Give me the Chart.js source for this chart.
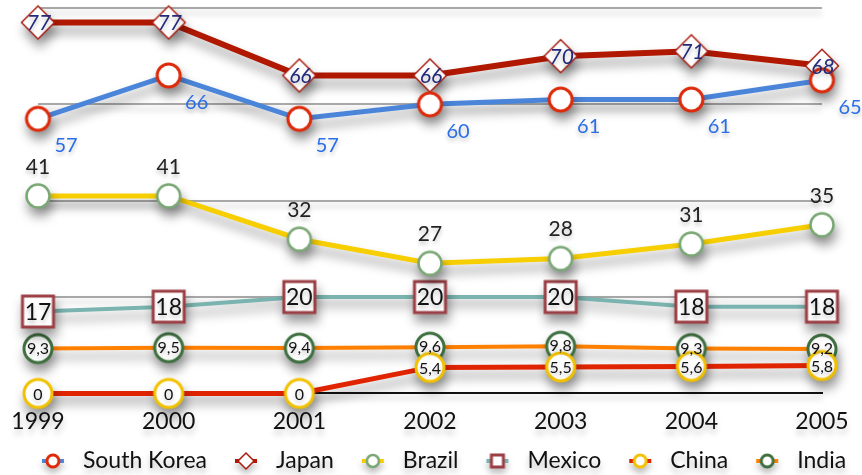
<!DOCTYPE html>
<html>
<head>
<meta charset="utf-8">
<script src="https://cdn.jsdelivr.net/npm/chart.js@4.4.1/dist/chart.umd.min.js"></script>
<style>
html, body { margin: 0; padding: 0; background: #fff; }
#wrap { width: 862px; height: 475px; position: relative; }
</style>
</head>
<body>
<div id="wrap"><canvas id="myChart"></canvas></div>
<script>
var years = ['1999', '2000', '2001', '2002', '2003', '2004', '2005']
var south_korea = [57, 66, 57, 60, 61, 61, 65]
var japan = [77, 77, 66, 66, 70, 71, 68]
var brazil = [41, 41, 32, 27, 28, 31, 35]
var mexico = [17, 18, 20, 20, 20, 18, 18]
var china = [0, 0, 0, 5.4, 5.5, 5.6, 5.8]
var india = [9.3, 9.5, 9.4, 9.6, 9.8, 9.3, 9.2]

var FONT = 'Lato, "Open Sans", sans-serif'

function shapePath(g, shape, cx, cy, size) {
  g.beginPath()
  if (shape == 'circle') {
    g.arc(cx, cy, size, 0, Math.PI * 2)
  } else if (shape == 'diamond') {
    g.moveTo(cx, cy - size); g.lineTo(cx + size, cy); g.lineTo(cx, cy + size); g.lineTo(cx - size, cy); g.closePath()
  } else {
    g.rect(cx - size, cy - size, size * 2, size * 2)
  }
}

// marker drawn as one image, so its shadow falls under the whole thing
function makeMarker(shape, border, bw, size) {
  var c = document.createElement('canvas')
  var s = Math.ceil(size * 2 + bw * 2 + 4)
  c.width = s; c.height = s
  var g = c.getContext('2d')
  shapePath(g, shape, s / 2, s / 2, size)
  g.fillStyle = '#fff'; g.fill()
  g.strokeStyle = border; g.lineWidth = bw; g.stroke()
  return c
}

// little legend icons: line stub with the marker on it
function makeIcon(lineColor, lineW, shape, border, bw, size) {
  var c = document.createElement('canvas')
  c.width = 24; c.height = 24
  var g = c.getContext('2d')
  g.strokeStyle = lineColor; g.lineWidth = lineW
  g.beginPath(); g.moveTo(1, 12); g.lineTo(23, 12); g.stroke()
  shapePath(g, shape, 12, 12, size)
  g.fillStyle = '#fff'; g.fill()
  g.strokeStyle = border; g.lineWidth = bw; g.stroke()
  return c
}

var markers = [
  makeMarker('circle', '#dd2a0a', 3, 11.5),
  makeMarker('diamond', '#a81c10', 1.5, 16.5),
  makeMarker('circle', '#7aa875', 2.5, 11.5),
  makeMarker('square', '#9c3f45', 3, 15.5),
  makeMarker('circle', '#f2c200', 3, 14),
  makeMarker('circle', '#3f7040', 3, 14)
]

var icons = [
  makeIcon('#4a85d9', 4, 'circle', '#dd2a0a', 3, 6),
  makeIcon('#b01800', 4, 'diamond', '#a81c10', 1.5, 8),
  makeIcon('#f7cf00', 4, 'circle', '#7aa875', 2.5, 6),
  makeIcon('#7ab3af', 4, 'square', '#9c3f45', 3, 6),
  makeIcon('#e02400', 4, 'circle', '#f2c200', 3, 6),
  makeIcon('#ff8000', 4, 'circle', '#3f7040', 3, 6)
]

// label look per dataset: colour, font, offset
var labelLook = [
  { color: '#2a6ee8', size: 20, style: 'normal', dx: 28, dy: 27 },
  { color: '#232a7a', size: 21, style: 'italic', dx: 1, dy: 1 },
  { color: '#222', size: 21, style: 'normal', dx: 0, dy: -29 },
  { color: '#111', size: 23, style: 'normal', dx: 0, dy: 1 },
  { color: '#111', size: 16, style: 'normal', dx: 0, dy: 1 },
  { color: '#111', size: 16, style: 'normal', dx: 0, dy: 0 }
]

// soft shadow on everything, a heavier one on the series
const shadowPlugin = {
  id: 'shadow',
  beforeDraw(chart) {
    var c = chart.ctx
    c.save()
    c.shadowColor = 'rgba(0,0,0,0.22)'
    c.shadowBlur = 6
    c.shadowOffsetY = 5
  },
  afterDraw(chart) {
    chart.ctx.restore()
  },
  beforeDatasetDraw(chart) {
    var c = chart.ctx
    c.save()
    c.shadowColor = 'rgba(0,0,0,0.4)'
    c.shadowBlur = 11
    c.shadowOffsetX = 2
    c.shadowOffsetY = 8
  },
  afterDatasetDraw(chart) {
    chart.ctx.restore()
  }
}

const valueLabels = {
  id: 'valueLabels',
  afterDatasetsDraw(chart) {
    var c = chart.ctx
    chart.data.datasets.forEach(function (ds, i) {
      var look = labelLook[i]
      var meta = chart.getDatasetMeta(i)
      meta.data.forEach(function (el, j) {
        var txt = String(ds.data[j]).replace('.', ',')
        c.save()
        c.font = look.style + ' ' + look.size + 'px ' + FONT
        c.fillStyle = look.color
        c.textAlign = 'center'
        c.textBaseline = 'middle'
        c.shadowColor = 'rgba(0,0,0,0.25)'
        c.shadowBlur = 4
        c.shadowOffsetY = 3
        c.fillText(txt, el.x + look.dx, el.y + look.dy)
        c.restore()
      })
    })
  }
}

// one-row legend under the axis
const legendRow = {
  id: 'legendRow',
  afterDraw(chart) {
    var c = chart.ctx
    c.save()
    c.font = '23px ' + FONT
    c.fillStyle = '#111'
    c.textBaseline = 'middle'
    c.shadowColor = 'rgba(0,0,0,0.25)'
    c.shadowBlur = 6
    c.shadowOffsetY = 5
    var names = chart.data.datasets.map(function (d) { return d.label })
    var widths = names.map(function (n) { return c.measureText(n).width })
    var total = 0
    widths.forEach(function (w) { total += 41 + w })
    total += 28 * (names.length - 1)
    var x = 444 - total / 2
    var y = 461
    names.forEach(function (n, i) {
      c.drawImage(icons[i], x - 1, y - 12)
      c.fillText(n, x + 41, y)
      x += 41 + widths[i] + 28
    })
    c.restore()
  }
}

const ctx = document.getElementById('myChart')

new Chart(ctx, {
  type: 'line',
  data: {
    labels: years,
    datasets: [
      { label: 'South Korea', data: south_korea, borderColor: '#4a85d9', borderWidth: 5, pointStyle: markers[0], pointRadius: 12 },
      { label: 'Japan', data: japan, borderColor: '#b01800', borderWidth: 6, pointStyle: markers[1], pointRadius: 16 },
      { label: 'Brazil', data: brazil, borderColor: '#f7cf00', borderWidth: 5, pointStyle: markers[2], pointRadius: 12 },
      { label: 'Mexico', data: mexico, borderColor: '#7ab3af', borderWidth: 4, pointStyle: markers[3], pointRadius: 16 },
      { label: 'China', data: china, borderColor: '#e02400', borderWidth: 5, pointStyle: markers[4], pointRadius: 14 },
      { label: 'India', data: india, borderColor: '#ff8000', borderWidth: 4, pointStyle: markers[5], pointRadius: 14 }
    ]
  },
  options: {
    responsive: true,
    maintainAspectRatio: false,
    animation: false,
    devicePixelRatio: 1,
    clip: false,
    layout: { autoPadding: false, padding: { left: 38, right: 40, top: 8, bottom: 34 } },
    elements: { line: { tension: 0, fill: false } },
    scales: {
      x: {
        offset: false,
        grid: { display: false },
        border: { display: true, color: '#111', width: 2 },
        ticks: { color: '#111', font: { family: FONT, size: 23 }, padding: 6, maxRotation: 0 }
      },
      y: {
        min: 0,
        max: 80,
        ticks: { display: false, stepSize: 20 },
        border: { display: false },
        grid: {
          drawTicks: false,
          lineWidth: 2,
          color: function (c) { return c.tick && c.tick.value == 0 ? 'rgba(0,0,0,0)' : '#a8a8a8' }
        }
      }
    },
    plugins: {
      tooltip: { enabled: false },
      legend: { display: false }
    }
  },
  plugins: [shadowPlugin, valueLabels, legendRow]
});
</script>
</body>
</html>
